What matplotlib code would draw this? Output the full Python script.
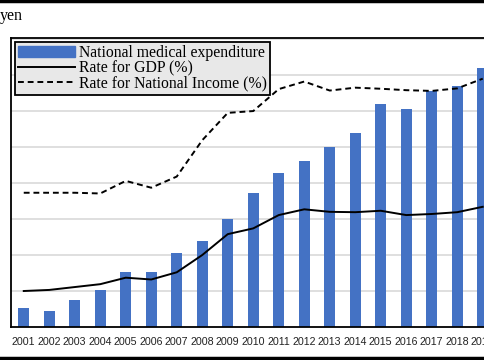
import matplotlib
matplotlib.use("Agg")
import matplotlib.pyplot as plt
from matplotlib.lines import Line2D

years = ["2001", "2002", "2003", "2004", "2005", "2006", "2007", "2008", "2009", "2010",
         "2011", "2012", "2013", "2014", "2015", "2016", "2017", "2018", "2019"]
expenditure = [0.53, 0.45, 0.75, 1.03, 1.54, 1.54, 2.05, 2.39, 3.00, 3.71,
               4.29, 4.60, 5.01, 5.39, 6.19, 6.07, 6.56, 6.69, 7.20]
rate_gdp = [1.00, 1.03, 1.11, 1.19, 1.37, 1.32, 1.52, 2.00, 2.58, 2.74,
            3.11, 3.27, 3.20, 3.19, 3.23, 3.11, 3.14, 3.19, 3.34]
rate_income = [3.73, 3.73, 3.73, 3.71, 4.06, 3.87, 4.18, 5.19, 5.95, 6.00,
               6.61, 6.82, 6.57, 6.65, 6.62, 6.58, 6.56, 6.63, 6.90]

W, H = 485, 360
fig = plt.figure(figsize=(W / 100, H / 100), dpi=100)

left_px, top_px, bottom_px = 11, 38, 327
width_px = 25.5 * len(years)
ax = fig.add_axes([left_px / W, (H - bottom_px) / H, width_px / W, (bottom_px - top_px) / H])

x = list(range(len(years)))
ax.bar(x, expenditure, width=0.42, color="#4472C4", zorder=2,
       label="National medical expenditure")
ax.plot(x, rate_gdp, color="black", lw=1.4, zorder=3, label="Rate for GDP (%)")
ax.plot(x, rate_income, color="black", lw=1.4, ls=(0, (3, 2)), zorder=3,
        label="Rate for National Income (%)")

ax.set_xlim(-0.5, len(years) - 0.5)
ax.set_ylim(0, 8.03)
ax.set_yticks(range(1, 9))
ax.yaxis.grid(True, color="#d9d9d9", lw=1.2, zorder=0)
ax.set_yticklabels([])
ax.tick_params(axis="y", length=0)
ax.set_xticks(x)
ax.set_xticklabels(years, fontfamily="Liberation Sans", fontsize=7.7, color="#222222")
ax.tick_params(axis="x", length=0, pad=7)
for side in ["left", "top", "bottom"]:
    ax.spines[side].set_color("black")
    ax.spines[side].set_linewidth(1.3)
ax.spines["right"].set_visible(False)

handles = [plt.Rectangle((0, 0), 1, 1, color="#4472C4"),
           Line2D([], [], color="black", lw=1.4),
           Line2D([], [], color="black", lw=1.4, ls=(0, (3, 2)))]
labels = ["National medical expenditure", "Rate for GDP (%)", "Rate for National Income (%)"]
leg = fig.legend(handles, labels, loc="upper left", bbox_to_anchor=(15 / W, 1 - 42 / H),
                 prop={"family": "Liberation Serif", "size": 11.3}, frameon=True,
                 fancybox=False, framealpha=1, facecolor="#e8e8e8", edgecolor="black",
                 borderpad=0.2, labelspacing=-0.05, handlelength=3.6, handletextpad=0.3,
                 borderaxespad=0)
leg.get_frame().set_linewidth(1.3)

fig.text(0.0, 1 - 16 / H, "yen", fontfamily="Liberation Serif", fontsize=11.5,
         ha="left", va="center")

fig.add_artist(Line2D([0, 1], [1 - 1 / H, 1 - 1 / H], color="black", lw=2.5,
                      transform=fig.transFigure))
fig.add_artist(Line2D([0, 1], [2 / H, 2 / H], color="black", lw=2.5,
                      transform=fig.transFigure))

fig.savefig("out.png", dpi=100)
